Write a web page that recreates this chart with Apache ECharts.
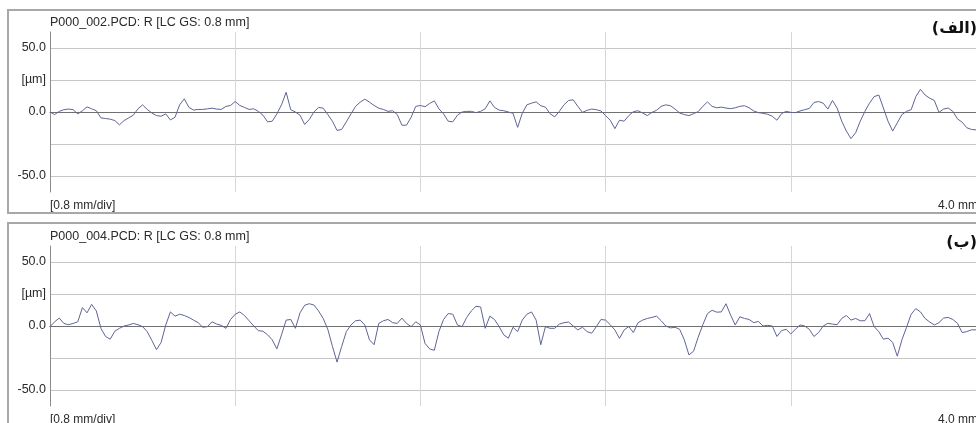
<!DOCTYPE html>
<html>
<head>
<meta charset="utf-8">
<script src="https://cdn.jsdelivr.net/npm/echarts@6/dist/echarts.min.js"></script>
<style>
  html, body { margin: 0; padding: 0; background: #fff; }
  #chart { width: 976px; height: 423px; }
</style>
</head>
<body>
<div id="chart"></div>
<script>
// sampling step along the trace (mm)
const STEP_MM = 0.02;

// profile (a): roughness in µm, 0 .. 4.0 mm
const profileA = [
  0, -2, 0.5, 1.8, 2.3, 1.8, -1.5, 1, 4, 2.5,
  1, -4.6, -5.1, -5.6, -6.7, -10, -6.7, -4.6, -2.5, 2.5,
  5.6, 2, -0.8, -2.8, -3.3, -1.5, -6.2, -4.1, 5.6, 10.3,
  3.6, 1.5, 2, 2, 2.5, 3, 2.3, 2, 4.4, 5.1,
  8.2, 5.1, 3.6, 2, 2.5, 0.5, -2.5, -7.7, -7.2, -1.5,
  5.6, 15.4, 1.8, 0, -2.5, -9.7, -5.9, 0, 3.6, 3,
  -2, -7.2, -14.4, -13.6, -7.7, -1.5, 4.4, 7.7, 10, 7.7,
  5.1, 3, 2, 0.5, 1, -2, -10.3, -10.3, -4.1, 4.4,
  5.1, 4.1, 6.7, 8.7, 2.5, -1.5, -7.2, -7.7, -2.5, 0,
  0.5, 0.5, -0.5, 0.5, 2.5, 8.7, 3.6, 1.5, 1, 0,
  -1,
  -12, -1, 5.6, 6.9, 7.9, 4.9, 3.8, -1.3, -3.8, 0.5,
  5.6, 9, 9.5, 4.4, -0.3, 1.3, 2.3, 1.8, 0.8, -2.8,
  -6.4, -13, -6.4, -7.2, -2.8, 0.3, 1, -0.8, -2.8, -0.3,
  1.3, 4.4, 5.6, 4.9, 2.3, -0.8, -2, -2.8, -1.3, 0.3,
  4.4, 7.9, 4.4, 3.3, 3.8, 3.1, 2.6, 3.3, 4.4, 4.9,
  3.3, 0.8, -0.5, -1, -1.8, -3.3, -6.4, -1.3, 0.5, -0.3,
  -0.5, 0.8, 1.8, 2.8, 7.4, 8.2, 6.9, 2.3, 9, 3.1,
  -7.2, -14.9, -20.8, -16.2, -7.2, 0.5, 6.9, 12, 13.3, 3.1,
  -7.2, -14.9, -8.5, -2, 0.5, 1.8, 12, 17.7, 13.3, 10.8,
  9, -0.3, 2.3, 3.1, 0.5, -5.4, -7.9, -12.3, -13.6, -14
];

// profile (b)
const profileB = [
  -0.5, 3.3, 6.2, 2, 1, 2, 3.3, 14.4, 10.3, 16.9,
  11.8, -1.8, -8.2, -10.3, -4.1, -1.8, 0, 0.8, 2, 1,
  -0.5, -4.4, -11.3, -18.5, -12.8, 0.8, 11, 7.7, 9.2, 8.2,
  6.7, 4.6, 2.6, -1, -0.5, 3.3, 1.5, 0.5, -1.8, 5.1,
  9.2, 11, 8.2, 4.1, 0, -3.6, -4.1, -6.9, -10.8, -17.9,
  -6.9, 4.6, 5.1, -1.8, 10.3, 16.2, 17.4, 16.4, 11.8, 5.9,
  -2.6, -15.9, -28.2, -15.9, -4.4, 0.8, 4.1, 4.6, 0.8, -10.8,
  -14.6, 2, 4.1, 5.1, 2.6, 2, 6.2, 2, -0.5, 3.3,
  0.8, -13.6, -17.9, -19, -4.4, 5.1, 9.7, 9.2, 0.8, -0.5,
  6.7, 11.8, 15.4, 14.9, -1.8, 7.7, 5.1, -0.5, -6.9, -9.5,
  -1,
  -4.4, 4.6, 9.2, 11, 4.6, -14.6, -0.5, -1.8, -1.8, 1.5,
  2.6, 3.1, 0, -3.1, -1, -4.4, -5.6, -0.5, 5.1, 4.6,
  1, -3.1, -9.7, -3.1, -0.5, -5.1, 2.6, 4.6, 5.9, 6.7,
  7.7, 4.1, 0, -1.5, -1, -2.6, -10.8, -22.6, -19.7, -8.7,
  1, 9.7, 12.3, 10.8, 11, 17.4, 8.5, 0.8, 7.2, 5.9,
  5.1, 2.6, 3.6, 0, 0.5, 0, -8.2, -3.6, -2.6, -6.2,
  -2.6, 0.8, 0, -2.6, -8.2, -5.1, 0, 2.1, 1.5, 1,
  5.9, 8.2, 4.6, 5.9, 4.1, 4.1, 9.7, -0.5, -4.4, -10.3,
  -9.5, -12.8, -23.6, -10.8, -1, 9.2, 13.6, 11, 5.9, 3.1,
  0.8, 2.6, 6.2, 6.7, 5.1, 2.1, -5.1, -4.4, -3, -3
];

const panelTitles = ["P000_002.PCD: R [LC GS: 0.8 mm]", "P000_004.PCD: R [LC GS: 0.8 mm]"];
const panelTags = ["(الف)", "(ب)"];
const yTickLabels = { "50": "50.0", "25": "[µm]", "0": "0.0", "-50": "-50.0" };
const xScaleLabel = "[0.8 mm/div]";
const xEndLabel = "4.0 mm";

const chart = echarts.init(document.getElementById("chart"));
const font = '"Liberation Sans", Arial, sans-serif';
const gridTops = [32, 246];
const profiles = [profileA, profileB];

function toPoints(vals) {
  return vals.map((v, i) => [+(i * STEP_MM).toFixed(2), v]);
}

const titles = [];
gridTops.forEach((top, i) => {
  titles.push(
    { text: panelTitles[i], left: 50, top: top - 16, padding: 0,
      textStyle: { fontFamily: font, fontSize: 12.5, fontWeight: "normal", color: "#2a2a2a" } },
    { text: panelTags[i], right: -1, top: top - 11, padding: 0,
      textStyle: { fontFamily: '"DejaVu Sans", sans-serif', fontSize: 16, fontWeight: "bold", color: "#111" } },
    { text: xScaleLabel, left: 50, top: top + 168, padding: 0,
      textStyle: { fontFamily: font, fontSize: 12, fontWeight: "normal", color: "#2a2a2a" } },
    { text: xEndLabel, left: 938, top: top + 168, padding: 0,
      textStyle: { fontFamily: font, fontSize: 12, fontWeight: "normal", color: "#2a2a2a" } }
  );
});

const option = {
  animation: false,
  backgroundColor: "#fff",
  title: titles,
  grid: gridTops.map((top) => ({ left: 50, top: top, width: 932, height: 160 })),
  xAxis: gridTops.map((_, i) => ({
    type: "value",
    gridIndex: i,
    min: 0,
    max: 4,
    interval: 0.8,
    axisLine: { onZero: true, lineStyle: { color: "#707070", width: 1 } },
    axisTick: { show: false },
    axisLabel: { show: false },
    splitLine: { show: true, lineStyle: { color: "#d6d6d6", width: 1 } },
  })),
  yAxis: gridTops.map((_, i) => ({
    type: "value",
    gridIndex: i,
    min: -62.5,
    max: 62.5,
    interval: 12.5,
    axisLine: { show: true, lineStyle: { color: "#8c8c8c", width: 1 } },
    axisTick: { show: false },
    axisLabel: {
      margin: 4,
      fontFamily: font,
      fontSize: 12.5,
      color: "#2a2a2a",
      formatter: (v) => yTickLabels[String(v)] || "",
    },
    // every other line (the ±25 / ±50 ones) is visible
    splitLine: { show: true, lineStyle: { color: ["rgba(0,0,0,0)", "#c6c6c6"], width: 1 } },
  })),
  series: profiles.map((vals, i) => ({
    type: "line",
    xAxisIndex: i,
    yAxisIndex: i,
    data: toPoints(vals),
    showSymbol: false,
    silent: true,
    lineStyle: { color: "#5f6594", width: 1 },
  })),
  graphic: [
    { type: "rect", shape: { x: 8, y: 10, width: 990, height: 203 },
      style: { fill: "none", stroke: "#a8a8a8", lineWidth: 2 }, silent: true },
    { type: "rect", shape: { x: 8, y: 223, width: 990, height: 215 },
      style: { fill: "none", stroke: "#a8a8a8", lineWidth: 2 }, silent: true },
  ],
};

chart.setOption(option);
</script>
</body>
</html>
